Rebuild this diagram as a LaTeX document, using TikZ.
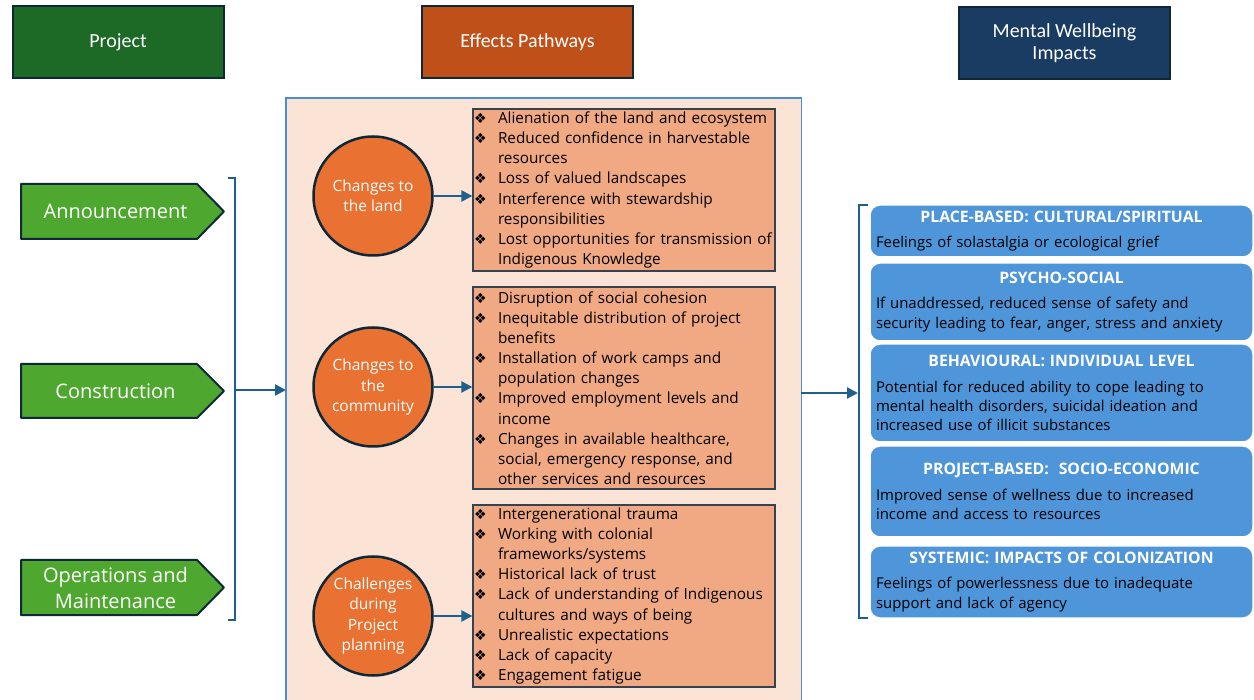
\documentclass[tikz,border=0pt]{standalone}
\usepackage{fontspec}
\setmainfont{Open Sans}
\newfontfamily\hdfont{Carlito}
\newfontfamily\symfont{DejaVu Sans}
\usetikzlibrary{arrows.meta}
\definecolor{hdgreen}{HTML}{1C6A26}
\definecolor{hdorange}{HTML}{C0501A}
\definecolor{hdnavy}{HTML}{1A3B62}
\definecolor{darkedge}{HTML}{0E2838}
\definecolor{argreen}{HTML}{4EA72E}
\definecolor{circorange}{HTML}{E97132}
\definecolor{salmon}{HTML}{F1A983}
\definecolor{pinkbg}{HTML}{FBE3D6}
\definecolor{pinkline}{HTML}{4A90D0}
\definecolor{conncol}{HTML}{1F5F8B}
\definecolor{boxblue}{HTML}{4E95D9}
\definecolor{boxedge}{HTML}{34434F}
\newcommand{\bulglyph}{{\symfont\fontsize{14}{14}\selectfont ❖}}
\newcommand{\bl}[1]{\makebox[24pt][l]{\bulglyph}\mbox{#1}}
\newcommand{\cl}[1]{\hspace*{24pt}\mbox{#1}}
\newcommand{\rtitle}[1]{{\fontsize{15.8}{19.3}\selectfont\bfseries\color{white}\makebox[371pt][c]{#1}}}
\begin{document}
\begin{tikzpicture}[x=1pt,y=-1pt,
  header/.style={draw=darkedge, line width=2pt, text=white, minimum width=211pt, minimum height=72pt, inner sep=0pt, align=center, font=\hdfont\fontsize{20}{22}\selectfont},
  arrowshape/.style={draw=darkedge, fill=argreen, line width=2pt, line join=round},
  arrowtext/.style={text=white, align=center, inner sep=0pt, font=\fontsize{20}{26}\selectfont},
  circ/.style={circle, draw=darkedge, fill=circorange, line width=2.5pt, minimum size=119pt, inner sep=0pt, text=white, align=center, font=\fontsize{15.5}{20.2}\selectfont},
  bullbox/.style={draw=boxedge, fill=salmon, line width=1.2pt, minimum width=302pt, text width=300pt, inner xsep=1pt, inner ysep=0pt, align=left, font=\fontsize{15.3}{20.15}\selectfont},
  impbox/.style={draw=white, fill=boxblue, line width=1.5pt, rounded corners=10pt, minimum width=383pt, text width=371pt, inner xsep=6pt, inner ysep=0pt, align=left, font=\fontsize{14.9}{19.3}\selectfont},
  conn/.style={draw=conncol, line width=2.2pt},
  arr/.style={conn, -{Triangle[length=11pt,width=11pt]}}
]
\useasboundingbox (0,0) rectangle (1254,700);

% headers
\node[header, fill=hdgreen] (proj) at (118,42.5) {Project};
\node[header, fill=hdorange] (eff) at (527.5,42.5) {Effects Pathways};
\node[header, fill=hdnavy] (mw) at (1064.5,43) {Mental Wellbeing\\Impacts};

% project phases
\draw[arrowshape] (21,184) -- (197,184) -- (224,211.5) -- (197,239) -- (21,239) -- cycle;
\node[arrowtext] (ann) at (115.5,211.5) {Announcement};
\draw[arrowshape] (21,364) -- (197,364) -- (224,391) -- (197,418) -- (21,418) -- cycle;
\node[arrowtext] (con) at (115.5,391) {Construction};
\draw[arrowshape] (21,560) -- (197,560) -- (224,587.5) -- (197,615) -- (21,615) -- cycle;
\node[arrowtext] (ops) at (115.5,587.5) {Operations and\\Maintenance};

% pathways background
\node[fill=pinkbg, minimum width=515pt, minimum height=602pt, anchor=north west, inner sep=0pt] (pw) at (286,98) {};
\draw[pinkline, line width=1.3pt] (pw.south west) -- (pw.north west) -- (pw.north east) -- (pw.south east);

% left bracket
\coordinate (lbt) at (228,178);
\coordinate (lbb) at (228,620);
\coordinate (lbm) at (235,390);
\draw[conn] (lbt) -- (235,178) -- (235,620) -- (lbb);
\draw[arr] (lbm) -- (lbm -| pw.west);

% circles
\node[circ] (c1) at (373,196) {Changes to\\the land};
\node[circ] (c2) at (373,387) {Changes to\\the\\community};
\node[circ] (c3) at (373,616) {Challenges\\during\\Project\\planning};

% bullet boxes
\node[bullbox, minimum height=162pt] (b1) at (624,190) {%
\bl{Alienation of the land and ecosystem}\\
\bl{Reduced confidence in harvestable}\\
\cl{resources}\\
\bl{Loss of valued landscapes}\\
\bl{Interference with stewardship}\\
\cl{responsibilities}\\
\bl{Lost opportunities for transmission of}\\
\cl{Indigenous Knowledge}};
\node[bullbox, minimum height=202pt] (b2) at (624,388) {%
\bl{Disruption of social cohesion}\\
\bl{Inequitable distribution of project}\\
\cl{benefits}\\
\bl{Installation of work camps and}\\
\cl{population changes}\\
\bl{Improved employment levels and}\\
\cl{income}\\
\bl{Changes in available healthcare,}\\
\cl{social, emergency response, and}\\
\cl{other services and resources}};
\node[bullbox, minimum height=182pt] (b3) at (624,596) {%
\bl{Intergenerational trauma}\\
\bl{Working with colonial}\\
\cl{frameworks/systems}\\
\bl{Historical lack of trust}\\
\bl{Lack of understanding of Indigenous}\\
\cl{cultures and ways of being}\\
\bl{Unrealistic expectations}\\
\bl{Lack of capacity}\\
\bl{Engagement fatigue}};

\draw[arr] (c1.east) -- (c1.east -| b1.west);
\draw[arr] (c2.east) -- (c2.east -| b2.west);
\draw[arr] (c3.east) -- (c3.east -| b3.west);

% right bracket
\coordinate (rbt) at (868,205);
\coordinate (rbb) at (868,618);
\coordinate (rbm) at (858,393);
\draw[conn] (rbt) -- (859,205) -- (859,618) -- (rbb);
\draw[arr] (pw.east |- rbm) -- (rbm);

% impact boxes
\node[impbox, minimum height=52pt] (r1) at (1061.5,231) {%
\rtitle{PLACE-BASED: CULTURAL/SPIRITUAL}\\[6pt]
Feelings of solastalgia or ecological grief};
\node[impbox, minimum height=78pt] (r2) at (1061.5,302) {%
\rtitle{PSYCHO-SOCIAL}\\[6pt]
If unaddressed, reduced sense of safety and\\
security leading to fear, anger, stress and anxiety};
\node[impbox, minimum height=98pt] (r3) at (1061.5,393) {%
\rtitle{BEHAVIOURAL: INDIVIDUAL LEVEL}\\[6pt]
Potential for reduced ability to cope leading to\\
mental health disorders, suicidal ideation and\\
increased use of illicit substances};
\node[impbox, minimum height=91pt] (r4) at (1061.5,491.5) {%
\rtitle{PROJECT-BASED:\ \ SOCIO-ECONOMIC}\\[6pt]
Improved sense of wellness due to increased\\
income and access to resources};
\node[impbox, minimum height=72pt] (r5) at (1061.5,582) {%
\rtitle{SYSTEMIC: IMPACTS OF COLONIZATION}\\[6pt]
Feelings of powerlessness due to inadequate\\
support and lack of agency};
\end{tikzpicture}
\end{document}
